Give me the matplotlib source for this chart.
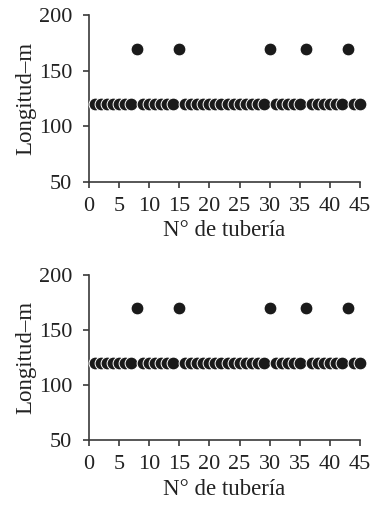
import matplotlib
matplotlib.use('Agg')
import matplotlib.pyplot as plt

# datos: longitud de cada tubería
tuberia = list(range(1, 46))
largas = [8, 15, 30, 36, 43]
longitud = [170 if n in largas else 120 for n in tuberia]

x_ticks = [0, 5, 10, 15, 20, 25, 30, 35, 40, 45]
y_ticks = [50, 100, 150, 200]

plt.rcParams['font.family'] = ['Liberation Serif', 'DejaVu Serif']
plt.rcParams['font.size'] = 16.5

fig = plt.figure(figsize=(3.73, 5.07), dpi=100)
spine_col = '#3a3a3a'

# posiciones de los dos paneles (en fracción de figura)
boxes = [
    [0.2386, 0.641, 0.7265, 0.329],
    [0.2386, 0.132, 0.7265, 0.325],
]

for box in boxes:
    ax = fig.add_axes(box)
    ax.scatter(tuberia, longitud, s=85, c='#1a1a1a', edgecolors='white',
               linewidths=0.7, zorder=3, clip_on=False)
    ax.set_xlim(0, 45)
    ax.set_ylim(50, 200)
    ax.set_xticks(x_ticks)
    ax.set_yticks(y_ticks)
    for side in ('top', 'right'):
        ax.spines[side].set_visible(False)
    for side in ('left', 'bottom'):
        ax.spines[side].set_color(spine_col)
        ax.spines[side].set_linewidth(1.2)
    ax.tick_params(direction='out', length=4, width=1.2, color=spine_col,
                   labelcolor='#222222', labelsize=16)
    ax.tick_params(axis='y', pad=8)
    ax.tick_params(axis='x', pad=7)
    ax.set_xlabel('N° de tubería', color='#222222', labelpad=3)
    ax.set_ylabel('Longitud–m', color='#222222', labelpad=2)

fig.savefig('out.png', dpi=100)
